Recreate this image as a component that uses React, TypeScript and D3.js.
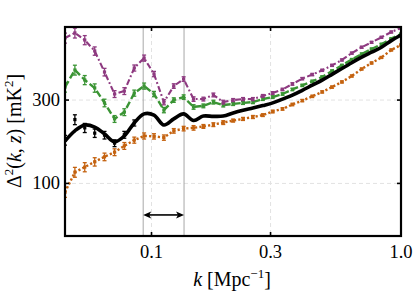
import React from 'react';
import * as d3 from 'd3';

const kValues = [0.0450, 0.0493, 0.0540, 0.0592, 0.0648, 0.0711, 0.0778, 0.0853, 0.0934, 0.1023, 0.1121, 0.1228, 0.1345, 0.1474, 0.1614, 0.1770, 0.1939, 0.2124, 0.2327, 0.2549, 0.2793, 0.3059, 0.3351, 0.3671, 0.4021, 0.4410, 0.4831, 0.5292, 0.5796, 0.6350, 0.6957, 0.7621, 0.8348, 0.9144, 1.0];
const blackModel = [175, 200, 216, 210, 192, 173, 187, 222, 250, 246, 216, 234, 250, 229, 243, 242, 243, 253, 262, 270, 279, 289, 304, 320, 341, 365, 390, 421, 455, 491, 528, 564, 602, 657, 707];
const blackData = [177, 232, 208, 194, 189, 170, 190, 222, 250, 246, 216, 234, 250, 229, 243, 242, 243, 253, 262, 270, 279, 289, 304, 320, 341, 365, 390, 421, 455, 491, 528, 564, 602, 657, 707];
const purpleData = [680, 727, 662, 573, 434, 325, 338, 458, 522, 423, 292, 361, 396, 304, 304, 321, 292, 300, 304, 304, 317, 329, 345, 371, 398, 420, 444, 474, 509, 557, 602, 642, 686, 736, 776];
const greenData = [356, 446, 391, 352, 289, 234, 256, 329, 361, 325, 263, 300, 312, 274, 278, 292, 281, 285, 289, 292, 304, 312, 325, 345, 364, 384, 407, 440, 474, 512, 551, 588, 626, 675, 717];
const orangeData = [89, 116, 124, 133, 142, 151, 164, 177, 187, 186, 183, 200, 206, 208, 212, 217, 223, 229, 234, 240, 246, 258, 267, 283, 298, 315, 334, 356, 381, 412, 452, 489, 526, 581, 620];
const relErr = [0.065, 0.065, 0.06, 0.055, 0.05, 0.045, 0.045, 0.04, 0.04, 0.035, 0.035, 0.03, 0.03, 0.03, 0.025, 0.025, 0.025, 0.02, 0.02, 0.02, 0.018, 0.018, 0.016, 0.016, 0.015, 0.015, 0.014, 0.014, 0.013, 0.013, 0.012, 0.012, 0.012, 0.012, 0.012];

const xTicks = [0.1, 0.3, 1.0];
const xTickLabels = ['0.1', '0.3', '1.0'];
const yTicks = [100, 300];
const yTickLabels = ['100', '300'];
const bandEdges = [0.0926, 0.135];
const arrowLevel = 66;

const FONT = "'Liberation Serif', 'Times New Roman', serif";

export default function App() {
  const W = 415, H = 295;
  const L = 65, R = 401, T = 27, B = 236;
  const x = d3.scaleLog().domain([0.045, 1.0]).range([L, R]);
  const y = d3.scaleLog().domain([50, 786]).range([B, T]);

  const line = d3.line<number>().x((_, i) => x(kValues[i])).y(d => y(d));
  const smooth = d3.line<number>().x((_, i) => x(kValues[i])).y(d => y(d)).curve(d3.curveCatmullRom.alpha(0.5));

  const series = [
    { name: 'orange', data: orangeData, color: '#c4620f', dash: '2.2,2.2', width: 2.4 },
    { name: 'green', data: greenData, color: '#3a9434', dash: '7,3', width: 2.4 },
    { name: 'purple', data: purpleData, color: '#8e3a80', dash: '6,2.5,1.8,2.5', width: 2.1 },
  ];

  const errBars = (data: number[], color: string, key: string, maxIdx = data.length) =>
    data.slice(0, maxIdx).map((v, i) => {
      const cx = x(kValues[i]);
      const lo = y(v * (1 - relErr[i]));
      const hi = y(v * (1 + relErr[i]));
      return (
        <g key={key + i} stroke={color} strokeWidth={1.3}>
          <line x1={cx} x2={cx} y1={lo} y2={hi} />
          <line x1={cx - 2} x2={cx + 2} y1={lo} y2={lo} />
          <line x1={cx - 2} x2={cx + 2} y1={hi} y2={hi} />
          <rect x={cx - 1.6} y={y(v) - 1.6} width={3.2} height={3.2} fill={color} stroke="none" />
        </g>
      );
    });

  const ax1 = x(bandEdges[0]), ax2 = x(bandEdges[1]), ay = y(arrowLevel);

  return (
    <svg width={W} height={H} style={{ position: 'absolute', left: 0, top: 0, background: '#fff' }} fontFamily={FONT}>
      <defs>
        <clipPath id="plotclip">
          <rect x={L} y={T} width={R - L} height={B - T} />
        </clipPath>
      </defs>
      <rect x={0} y={0} width={W} height={H} fill="#fff" />
      <g stroke="#e2e2e2" strokeWidth={1} strokeDasharray="4,3">
        {xTicks.slice(0, 2).map(t => (
          <line key={'gx' + t} x1={x(t)} x2={x(t)} y1={T} y2={B} />
        ))}
        {yTicks.map(t => (
          <line key={'gy' + t} x1={L} x2={R} y1={y(t)} y2={y(t)} />
        ))}
      </g>
      <g stroke="#a8a8a8" strokeWidth={1}>
        {bandEdges.map(b => (
          <line key={'b' + b} x1={x(b)} x2={x(b)} y1={T} y2={B} />
        ))}
      </g>
      <g clipPath="url(#plotclip)">
        {series.map(s => (
          <g key={s.name}>
            <path d={line(s.data) || ''} fill="none" stroke={s.color} strokeWidth={s.width} strokeDasharray={s.dash} />
            {errBars(s.data, s.color, s.name)}
          </g>
        ))}
        <path d={smooth(blackModel) || ''} fill="none" stroke="#000" strokeWidth={3.6} strokeLinejoin="round" />
        {errBars(blackData, '#000', 'black', 8)}
      </g>
      <g>
        <line x1={ax1 + 5} x2={ax2 - 5} y1={ay} y2={ay} stroke="#000" strokeWidth={1.6} />
        <path d={`M${ax1},${ay} L${ax1 + 8},${ay - 3.5} L${ax1 + 6},${ay} L${ax1 + 8},${ay + 3.5} Z`} fill="#000" />
        <path d={`M${ax2},${ay} L${ax2 - 8},${ay - 3.5} L${ax2 - 6},${ay} L${ax2 - 8},${ay + 3.5} Z`} fill="#000" />
      </g>
      <rect x={L} y={T} width={R - L} height={B - T} fill="none" stroke="#000" strokeWidth={2.2} />
      <g stroke="#000" strokeWidth={1.6}>
        {xTicks.slice(0, 2).map(t => (
          <g key={'tx' + t}>
            <line x1={x(t)} x2={x(t)} y1={B} y2={B - 4} />
            <line x1={x(t)} x2={x(t)} y1={T} y2={T + 4} />
          </g>
        ))}
        {yTicks.map(t => (
          <g key={'ty' + t}>
            <line x1={L} x2={L + 4} y1={y(t)} y2={y(t)} />
            <line x1={R} x2={R - 4} y1={y(t)} y2={y(t)} />
          </g>
        ))}
      </g>
      <g fontSize={18.5} fill="#000">
        {xTicks.map((t, i) => (
          <text key={'lx' + t} x={x(t)} y={258} textAnchor="middle">{xTickLabels[i]}</text>
        ))}
        {yTicks.map((t, i) => (
          <text key={'ly' + t} x={60} y={y(t) + 6} textAnchor="end">{yTickLabels[i]}</text>
        ))}
      </g>
      <text x={232} y={286} fontSize={20} textAnchor="middle" fill="#000">
        <tspan fontStyle="italic">k</tspan>
        <tspan> [Mpc</tspan>
        <tspan dy={-8} fontSize={13}>−1</tspan>
        <tspan dy={8}>]</tspan>
      </text>
      <text transform="translate(21,131) rotate(-90)" fontSize={20} textAnchor="middle" fill="#000">
        <tspan>Δ</tspan>
        <tspan dy={-8} fontSize={13}>2</tspan>
        <tspan dy={8}>(</tspan>
        <tspan fontStyle="italic">k</tspan>
        <tspan>, </tspan>
        <tspan fontStyle="italic">z</tspan>
        <tspan>) [mK</tspan>
        <tspan dy={-8} fontSize={13}>2</tspan>
        <tspan dy={8}>]</tspan>
      </text>
    </svg>
  );
}
